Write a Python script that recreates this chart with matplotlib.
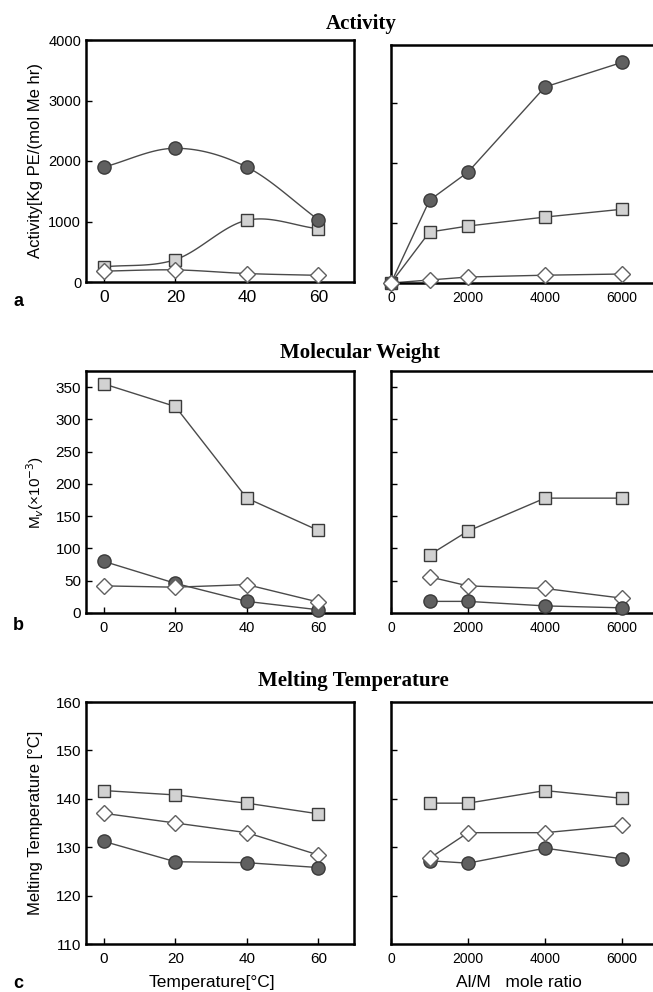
import matplotlib
matplotlib.use("Agg")
import matplotlib.pyplot as plt
import numpy as np

plt.rcParams['font.family'] = ['Liberation Sans', 'DejaVu Sans']

# x values
temp = [0, 20, 40, 60]
ratio_act = [0, 1000, 2000, 4000, 6000]
ratio = [1000, 2000, 4000, 6000]

# activity vs temperature
act_t_circle = [1900, 2210, 1900, 1030]
act_t_square = [250, 370, 1020, 880]
act_t_diamond = [180, 200, 140, 110]
# activity vs Al/M
act_r_circle = [0, 1380, 1850, 3270, 3680]
act_r_square = [0, 850, 950, 1100, 1230]
act_r_diamond = [0, 50, 100, 130, 150]

# molecular weight
mw_t_square = [355, 320, 178, 128]
mw_t_circle = [80, 46, 18, 5]
mw_t_diamond = [42, 40, 44, 17]
mw_r_square = [90, 127, 178, 178]
mw_r_diamond = [56, 42, 38, 23]
mw_r_circle = [18, 18, 11, 8]

# melting temperature
tm_t_square = [141.7, 140.8, 139.1, 136.9]
tm_t_diamond = [137.0, 135.0, 133.0, 128.4]
tm_t_circle = [131.2, 127.0, 126.8, 125.8]
tm_r_square = [139.1, 139.1, 141.7, 140.1]
tm_r_diamond = [127.7, 133.0, 133.0, 134.5]
tm_r_circle = [127.2, 126.7, 129.8, 127.6]

LINE = '#4a4a4a'
circ = dict(marker='o', ms=9.5, mfc='#606060', mec='#3a3a3a', mew=1.0)
sq = dict(marker='s', ms=8, mfc='#d2d2d2', mec='#3a3a3a', mew=1.0)
dia = dict(marker='D', ms=8.5, mfc='white', mec='#606060', mew=1.0)


def smooth(x, y, n=40):
    # catmull-rom through the points, only for the drawn curve
    x = np.asarray(x, float); y = np.asarray(y, float)
    px = np.concatenate([[2*x[0]-x[1]], x, [2*x[-1]-x[-2]]])
    py = np.concatenate([[2*y[0]-y[1]], y, [2*y[-1]-y[-2]]])
    xs, ys = [], []
    t = np.linspace(0, 1, n)
    for i in range(1, len(px)-2):
        for p, out in ((px, xs), (py, ys)):
            p0, p1, p2, p3 = p[i-1], p[i], p[i+1], p[i+2]
            out.extend(0.5*((2*p1) + (-p0+p2)*t + (2*p0-5*p1+4*p2-p3)*t**2 + (-p0+3*p1-3*p2+p3)*t**3))
    return xs, ys


def series(ax, x, y, style, curve=False):
    if curve:
        sx, sy = smooth(x, y)
        ax.plot(sx, sy, color=LINE, lw=1.0, zorder=2)
    else:
        ax.plot(x, y, color=LINE, lw=1.0, zorder=2, clip_on=False)
    ax.plot(x, y, ls='none', zorder=3, clip_on=False, **style)


def style_left(ax):
    for s in ax.spines.values():
        s.set_linewidth(1.8)
    ax.tick_params(direction='in', length=4, width=1)


def style_right(ax):
    ax.spines['right'].set_visible(False)
    for s in ax.spines.values():
        s.set_linewidth(1.8)
    ax.tick_params(direction='in', length=4, width=1, labelleft=False)
    ax.tick_params(axis='x', labelsize=10, pad=6)
    ax.set_xlim(0, 6805)
    ax.set_xticks([0, 2000, 4000, 6000])


fig = plt.figure(figsize=(6.53, 9.92), dpi=100)
W, H = 653.0, 992.0


def axes_px(x0, y0, x1, y1):
    return fig.add_axes([x0/W, 1-y1/H, (x1-x0)/W, (y1-y0)/H])


def ylab(ax, text, size):
    ax.set_ylabel(text, fontsize=size, va='center')
    ax.yaxis.set_label_coords(-0.19, 0.5)


# ---- Activity
a1 = axes_px(86, 40, 354, 282)
series(a1, temp, act_t_square, sq, curve=True)
series(a1, temp, act_t_circle, circ, curve=True)
series(a1, temp, act_t_diamond, dia, curve=True)
a1.set_xlim(-5, 70); a1.set_ylim(0, 4000)
a1.set_xticks(temp); a1.set_yticks([0, 1000, 2000, 3000, 4000])
style_left(a1)
a1.tick_params(axis='x', labelsize=12.5, pad=6)
a1.tick_params(axis='y', labelsize=10.5)
ylab(a1, 'Activity[Kg PE/(mol Me hr)', 12)

a2 = axes_px(391, 45, 653, 283)
series(a2, ratio_act, act_r_square, sq)
series(a2, ratio_act, act_r_circle, circ)
series(a2, ratio_act, act_r_diamond, dia)
a2.set_ylim(0, 3970)
a2.set_yticks([1000, 2000, 3000])
style_right(a2)

# ---- Molecular weight
b1 = axes_px(86, 371, 354, 613)
series(b1, temp, mw_t_square, sq)
series(b1, temp, mw_t_circle, circ)
series(b1, temp, mw_t_diamond, dia)
b1.set_xlim(-5, 70); b1.set_ylim(0, 375)
b1.set_xticks(temp); b1.set_yticks(range(0, 351, 50))
style_left(b1)
b1.tick_params(axis='x', labelsize=10.5, pad=6)
b1.tick_params(axis='y', labelsize=11)
ylab(b1, 'M$_v$(×10$^{-3}$)', 11)

b2 = axes_px(391, 371, 653, 613)
series(b2, ratio, mw_r_square, sq)
series(b2, ratio, mw_r_diamond, dia)
series(b2, ratio, mw_r_circle, circ)
b2.set_ylim(0, 375)
b2.set_yticks(range(50, 351, 50))
style_right(b2)

# ---- Melting temperature
c1 = axes_px(86, 702, 354, 944)
series(c1, temp, tm_t_square, sq)
series(c1, temp, tm_t_diamond, dia)
series(c1, temp, tm_t_circle, circ)
c1.set_xlim(-5, 70); c1.set_ylim(110, 160)
c1.set_xticks(temp); c1.set_yticks(range(110, 161, 10))
style_left(c1)
c1.tick_params(axis='x', labelsize=11, pad=6)
c1.tick_params(axis='y', labelsize=11)
ylab(c1, 'Melting Temperature [°C]', 12)
c1.set_xlabel('Temperature[°C]', fontsize=12.5, va='center')
c1.xaxis.set_label_coords(0.47, -0.161)

c2 = axes_px(391, 702, 653, 944)
series(c2, ratio, tm_r_square, sq)
series(c2, ratio, tm_r_circle, circ)
series(c2, ratio, tm_r_diamond, dia)
c2.set_ylim(110, 160)
c2.set_yticks([120, 130, 140, 150])
style_right(c2)
c2.set_xlabel('Al/M   mole ratio', fontsize=12.5, va='center')
c2.xaxis.set_label_coords(0.49, -0.161)

# titles and panel letters
tfont = dict(family='Liberation Serif', fontweight='bold', fontsize=15, ha='center', va='baseline')
fig.text(361/W, 1-29/H, 'Activity', **tfont)
fig.text(360/W, 1-358/H, 'Molecular Weight', **tfont)
fig.text(353/W, 1-686/H, 'Melting Temperature', **tfont)
for letter, y in (('a', 302), ('b', 625), ('c', 983)):
    fig.text(18/W, 1-y/H, letter, fontsize=13, fontweight='bold', ha='center', va='center')

fig.savefig('out.png', dpi=100)
